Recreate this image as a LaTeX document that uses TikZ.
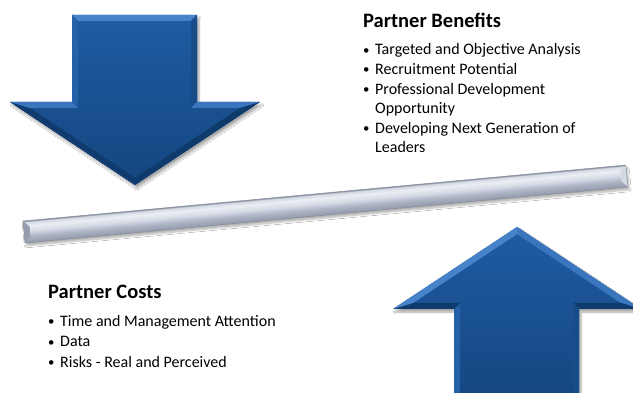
\documentclass[tikz,border=0pt]{standalone}
\usepackage{fontspec}
\setmainfont{Carlito}
\usetikzlibrary{shadows.blur}
\definecolor{arrtop}{HTML}{1F5CA3}
\definecolor{arrbot}{HTML}{144680}
\definecolor{facetlight}{HTML}{4683C9}
\definecolor{facetlight2}{HTML}{3A76BD}
\definecolor{facetmid}{HTML}{2461A8}
\definecolor{facetmid2}{HTML}{194D8A}
\definecolor{facetdark}{HTML}{0F3A6C}
\definecolor{bedge}{HTML}{8C93A3}
\definecolor{btop}{HTML}{D3D8E2}
\definecolor{bhi}{HTML}{EBEEF4}
\definecolor{blight}{HTML}{D6DBE6}
\definecolor{bmid}{HTML}{AEB5C5}
\definecolor{bd2}{HTML}{969DAE}
\definecolor{bdark}{HTML}{6A7183}
\pgfdeclareverticalshading{barsh}{100bp}{color(0bp)=(bdark); color(25bp)=(bdark); color(27bp)=(bd2); color(40bp)=(bmid); color(52bp)=(blight); color(64bp)=(bhi); color(72bp)=(btop); color(75bp)=(bedge); color(100bp)=(bedge)}
\tikzset{
  arrowbody/.style={top color=arrtop, bottom color=arrbot, blur shadow={shadow xshift=2pt, shadow yshift=-3pt, shadow blur steps=6, shadow opacity=35}},
  headtext/.style={anchor=base west, inner sep=0pt, font=\bfseries\fontsize{20.5}{24}\selectfont},
  itemtext/.style={anchor=base west, inner sep=0pt, font=\fontsize{16}{19.3}\selectfont},
}
\newcommand\bul[1]{\makebox[12pt][l]{\raisebox{0.6pt}{\scalebox{0.8}{•}}}#1}
\begin{document}
\begin{tikzpicture}[x=1pt,y=-1pt]
\useasboundingbox (0,0) rectangle (633,393);
\fill[white] (0,0) rectangle (633,393);
\begin{scope}
\clip (0,0) rectangle (633,393);
% ---------- down arrow ----------
\coordinate (A) at (72,15);   \coordinate (A1) at (78,21);
\coordinate (B) at (197,15);  \coordinate (B1) at (191,21);
\coordinate (C) at (197,102); \coordinate (C1) at (191,108);
\coordinate (D) at (260,102); \coordinate (D1) at (240.1,108);
\coordinate (E) at (135,185); \coordinate (E1) at (135,177.8);
\coordinate (F) at (10,102);  \coordinate (F1) at (29.9,108);
\coordinate (G) at (72,102);  \coordinate (G1) at (78,108);
\shade[arrowbody] (A) -- (B) -- (C) -- (D) -- (E) -- (F) -- (G) -- cycle;
\fill[facetlight]  (A) -- (B) -- (B1) -- (A1) -- cycle;
\fill[facetmid2]   (B) -- (C) -- (C1) -- (B1) -- cycle;
\fill[facetlight2] (C) -- (D) -- (D1) -- (C1) -- cycle;
\fill[facetdark]   (D) -- (E) -- (E1) -- (D1) -- cycle;
\fill[facetdark!90!arrbot] (E) -- (F) -- (F1) -- (E1) -- cycle;
\fill[facetlight2] (F) -- (G) -- (G1) -- (F1) -- cycle;
\fill[facetmid]    (G) -- (A) -- (A1) -- (G1) -- cycle;
% ---------- up arrow ----------
\coordinate (P) at (517,227); \coordinate (P1) at (517,234.2);
\coordinate (Q) at (641,309); \coordinate (Q1) at (621,303);
\coordinate (R) at (579,309); \coordinate (R1) at (573,303);
\coordinate (S) at (579,405); \coordinate (S1) at (573,405);
\coordinate (T) at (454,405); \coordinate (T1) at (460,405);
\coordinate (U) at (454,309); \coordinate (U1) at (460,303);
\coordinate (V) at (393,309); \coordinate (V1) at (413,303);
\shade[arrowbody] (P) -- (Q) -- (R) -- (S) -- (T) -- (U) -- (V) -- cycle;
\fill[facetlight2] (P) -- (Q) -- (Q1) -- (P1) -- cycle;
\fill[facetdark]   (Q) -- (R) -- (R1) -- (Q1) -- cycle;
\fill[facetmid2]   (R) -- (S) -- (S1) -- (R1) -- cycle;
\fill[facetmid]    (T) -- (U) -- (U1) -- (T1) -- cycle;
\fill[facetdark]   (U) -- (V) -- (V1) -- (U1) -- cycle;
\fill[facetlight]  (V) -- (P) -- (P1) -- (V1) -- cycle;
% ---------- balance bar ----------
\begin{scope}[transform canvas={shift={(24,232)},rotate=5.31}]
\shade[shading=barsh, blur shadow={shadow xshift=1pt, shadow yshift=-3pt, shadow blur steps=6, shadow opacity=30}] (0,-11) rectangle (605.6,11);
\fill[bd2] (0,-11) -- (6,-5) -- (6,5) -- (0,11) -- cycle;
\fill[btop] (605.6,-11) -- (599.6,-5) -- (599.6,5) -- (605.6,11) -- cycle;
\draw[bdark!80!white, line width=0.5pt] (0,-11) rectangle (605.6,11);
\end{scope}
\end{scope}
% ---------- texts ----------
\node[headtext] (benh) at (363,28) {Partner Benefits};
\node[itemtext] (b1) at (363,55)    {\bul{Targeted and Objective Analysis}};
\node[itemtext] (b2) at (363,74.5)  {\bul{Recruitment Potential}};
\node[itemtext] (b3) at (363,94.5)  {\bul{Professional Development}};
\node[itemtext] (b4) at (375,113.5) {Opportunity};
\node[itemtext] (b5) at (363,133.5) {\bul{Developing Next Generation of}};
\node[itemtext] (b6) at (375,152.5) {Leaders};
\node[headtext] (costh) at (48,299) {Partner Costs};
\node[itemtext] (c1) at (48,326.5) {\bul{Time and Management Attention}};
\node[itemtext] (c2) at (48,347)   {\bul{Data}};
\node[itemtext] (c3) at (48,367.5) {\bul{Risks - Real and Perceived}};
\end{tikzpicture}
\end{document}
